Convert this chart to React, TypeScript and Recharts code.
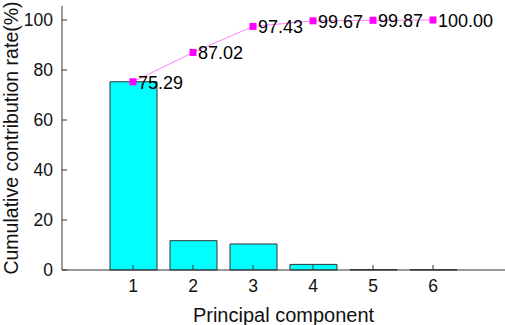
import React from 'react';
import { ComposedChart, Bar, Line, XAxis, YAxis, LabelList } from 'recharts';

const components = ['1', '2', '3', '4', '5', '6'];
const contribution = [75.29, 11.73, 10.41, 2.24, 0.2, 0.13];
const cumulative = [75.29, 87.02, 97.43, 99.67, 99.87, 100.0];
const yTicks = [0, 20, 40, 60, 80, 100];

const data = components.map((c, i) => ({
  pc: c,
  contribution: contribution[i],
  cumulative: cumulative[i],
}));

const FONT = '"Liberation Sans", Arial, sans-serif';

const SquareDot = (props: any) => {
  const { cx, cy } = props;
  if (cx == null || cy == null) return null;
  return <rect x={cx - 3.5} y={cy - 3.5} width={7} height={7} fill="#ff00ff" stroke="none" />;
};

const PointLabel = (props: any) => {
  const { x, y, value } = props;
  return (
    <text x={x + 5} y={y + 7} fontSize={18} fontFamily={FONT} fill="#000" textAnchor="start">
      {Number(value).toFixed(2)}
    </text>
  );
};

const YTitle = (props: any) => {
  const vb = props.viewBox || {};
  const cy = (vb.y ?? 6) + (vb.height ?? 264) / 2;
  const cx = 11;
  return (
    <text
      x={cx}
      y={cy}
      transform={`rotate(-90, ${cx}, ${cy})`}
      textAnchor="middle"
      dominantBaseline="central"
      fontSize={19.5}
      fontFamily={FONT}
      fill="#111"
    >
      Cumulative contribution rate(%)
    </text>
  );
};

export default function App() {
  return (
    <div style={{ position: 'absolute', left: 0, top: 0, width: 505, height: 325, background: '#fff' }}>
      <ComposedChart
        width={505}
        height={325}
        data={data}
        margin={{ top: 6, right: 0, bottom: 0, left: 0 }}
      >
        <XAxis
          dataKey="pc"
          type="category"
          padding={{ left: 41, right: 42 }}
          height={55}
          tickSize={-5}
          tickMargin={15}
          axisLine={{ stroke: '#333', strokeWidth: 1 }}
          tickLine={{ stroke: '#333' }}
          tick={{ fontSize: 17.5, fontFamily: FONT, fill: '#111' }}
          label={{
            value: 'Principal component',
            position: 'insideBottom',
            offset: 3,
            fontSize: 20,
            fontFamily: FONT,
            fill: '#111',
          }}
        />
        <YAxis
          type="number"
          domain={[0, 105.6]}
          ticks={yTicks}
          width={62}
          tickSize={-5}
          tickMargin={14}
          axisLine={{ stroke: '#333', strokeWidth: 1 }}
          tickLine={{ stroke: '#333' }}
          tick={{ fontSize: 17.5, fontFamily: FONT, fill: '#111' }}
          label={<YTitle />}
        />
        <Bar
          dataKey="contribution"
          fill="#00ffff"
          stroke="#333"
          strokeWidth={1}
          barSize={47}
          isAnimationActive={false}
        />
        <Line
          dataKey="cumulative"
          stroke="#ff80ff"
          strokeWidth={1}
          dot={<SquareDot />}
          activeDot={false}
          isAnimationActive={false}
        >
          <LabelList dataKey="cumulative" content={<PointLabel />} />
        </Line>
      </ComposedChart>
    </div>
  );
}
